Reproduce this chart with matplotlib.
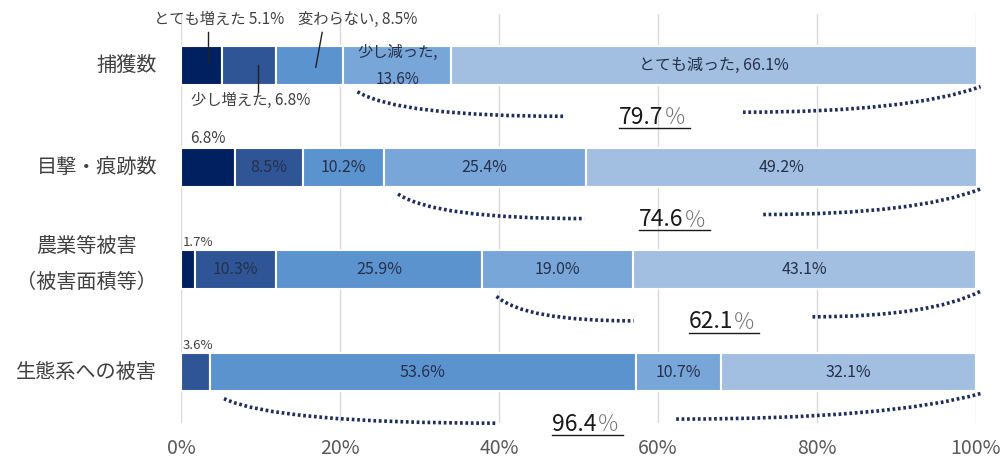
import numpy as np
import matplotlib
import matplotlib.pyplot as plt
from matplotlib.path import Path
from matplotlib.patches import PathPatch
from matplotlib.transforms import ScaledTranslation
matplotlib.use('Agg')

plt.rcParams['font.family'] = ['Noto Sans CJK JP', 'DejaVu Sans']

categories = ['捕獲数', '目撃・痕跡数', '農業等被害\n（被害面積等）', '生態系への被害']
answers = ['とても増えた', '少し増えた', '変わらない', '少し減った', 'とても減った']
values = np.array([
    [5.1, 6.8, 8.5, 13.6, 66.1],
    [6.8, 8.5, 10.2, 25.4, 49.2],
    [1.7, 10.3, 25.9, 19.0, 43.1],
    [0.0, 3.6, 53.6, 10.7, 32.1],
])
# first answer included in the bracketed total for each row
brace_from = [3, 3, 3, 2]
colors = ['#002060', '#2f5597', '#5b93cf', '#79a6d9', '#a2bfe1']
txt_col = '#25304a'
lbl_col = '#404040'
dot_col = '#1f2d5c'

fig = plt.figure(figsize=(10.06, 4.59), dpi=100)
ax = fig.add_axes([0.180, 0.078, 0.790, 0.8915])

rows = np.arange(len(categories))
h = 0.38
left = np.zeros(len(categories))
for j in range(len(answers)):
    ax.barh(rows, values[:, j], left=left, height=h, color=colors[j],
            edgecolor='white', linewidth=1.5, zorder=3)
    left = left + values[:, j]

starts = np.cumsum(values, axis=1) - values
mids = starts + values / 2

# row 0: labels carry the answer names
r = 0
ax.text(mids[r, 0] + 2.3, r - 0.445, f'{answers[0]} {values[r, 0]}%', ha='center', va='center',
        fontsize=11, color=lbl_col, zorder=5)
ax.plot([mids[r, 0] + 0.8, mids[r, 0] + 0.8], [r - 0.32, r - 0.02], color='#202020', lw=1, zorder=5)
ax.text(mids[r, 2] + 6.1, r - 0.445, f'{answers[2]}, {values[r, 2]}%', ha='center', va='center',
        fontsize=11, color=lbl_col, zorder=5)
ax.plot([mids[r, 2] + 1.6, mids[r, 2] + 0.8], [r - 0.32, r + 0.02], color='#202020', lw=1, zorder=5)
ax.text(mids[r, 1] + 0.3, r + 0.35, f'{answers[1]}, {values[r, 1]}%', ha='center', va='center',
        fontsize=11, color=lbl_col, zorder=5)
ax.plot([mids[r, 1] + 1.2, mids[r, 1] + 1.2], [r - 0.0, r + 0.26], color='#202020', lw=1, zorder=5)
ax.text(mids[r, 3], r + 0.01, f'{answers[3]},\n{values[r, 3]}%', ha='center', va='center',
        fontsize=11, color=txt_col, linespacing=1.75, zorder=5)
ax.text(mids[r, 4], r, f'{answers[4]}, {values[r, 4]}%', ha='center', va='center',
        fontsize=11.5, color=txt_col, zorder=5)

# other rows: first non-zero segment gets its label above the bar
for r in range(1, len(categories)):
    first = int(np.nonzero(values[r])[0][0])
    for j in range(len(answers)):
        v = values[r, j]
        if v == 0:
            continue
        if j == first:
            if v > 5:
                ax.text(mids[r, j], r - 0.2, f'{v}%', ha='center', va='bottom',
                        fontsize=11, color=lbl_col, zorder=5)
            else:
                ax.text(0.25, r - 0.2, f'{v}%', ha='left', va='bottom',
                        fontsize=9.5, color=lbl_col, zorder=5)
        else:
            ax.text(mids[r, j], r, f'{v}%', ha='center', va='center',
                    fontsize=11.5, color=txt_col, zorder=5)

# dotted braces with the summed share
for r in range(len(categories)):
    k = brace_from[r]
    total = values[r, k:].sum()
    x0 = starts[r, k]
    x3 = 100.6
    split = (x0 + 100) / 2 + 0.5
    x1, x2 = split - 12.5, split + 10
    y0, yl, yr, y3 = r + 0.26, r + 0.50, r + 0.46, r + 0.21
    for verts in ([(x0 + 1.8, y0), (x0 + 1.8 + 0.18 * (x1 - x0), yl), (x1, yl)],
                  [(x2, yr), (x3 - 0.3 * (x3 - x2), yr), (x3, y3)]):
        ax.add_patch(PathPatch(Path(verts, [Path.MOVETO, Path.CURVE3, Path.CURVE3]), fill=False,
                               edgecolor=dot_col, lw=2.6, linestyle=(0, (0.75, 0.75)), zorder=4,
                               clip_on=False))
    ax.text(split, r + 0.51, f'{total:.1f}', ha='right', va='center', fontsize=16.5,
            color='#1a1a1a', zorder=5)
    ax.text(split, r + 0.52, '％', ha='left', va='center', fontsize=16,
            color='#707070', fontweight='light', zorder=5)
    ax.plot([split - 5.6, split + 3.3], [r + 0.615, r + 0.615], color='#1a1a1a', lw=1, zorder=5,
            clip_on=False)

# category labels drawn beside the axis
ytrans = ax.get_yaxis_transform()
for r, name in enumerate(categories):
    tr = ytrans
    if '\n' in name:
        tr = ytrans + ScaledTranslation(0, 4 / 72, fig.dpi_scale_trans)
    ax.text(-0.0302, r, name, transform=tr, ha='right', va='center', fontsize=14.5,
            color=lbl_col, multialignment='center', linespacing=1.9)

ax.set_xlim(0, 100)
ax.set_ylim(len(categories) - 0.5, -0.5)
ax.set_xticks(np.arange(0, 101, 20))
ax.set_xticklabels([f'{t}%' for t in range(0, 101, 20)], fontsize=14, color='#595959')
ax.set_yticks([])
ax.tick_params(axis='both', length=0)
ax.tick_params(axis='x', pad=11)
ax.xaxis.grid(True, color='#d9d9d9', lw=1, zorder=0)
ax.set_axisbelow(True)
for s in ax.spines.values():
    s.set_visible(False)

fig.savefig('out.png', dpi=100)
